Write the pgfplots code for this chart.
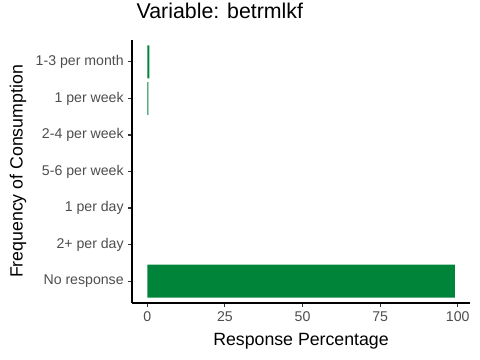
\documentclass[border=0pt]{standalone}
\usepackage{pgfplots}
\pgfplotsset{compat=1.18}
\usepackage{fontspec}
\setmainfont{Liberation Sans}
\definecolor{bargreen}{RGB}{0,132,58}
\definecolor{tickgray}{RGB}{77,77,77}
\begin{document}
\begin{tikzpicture}[x=1pt,y=1pt]
\path[use as bounding box] (0,0) rectangle (360,270);
\begin{axis}[
 at={(99pt,42.75pt)}, anchor=south west,
 scale only axis, width=253.5pt, height=197.25pt,
 xbar, bar width=0.9,
 xmin=-4.95, xmax=103.95, ymin=0.4, ymax=7.6,
 axis x line*=bottom, axis y line*=left,
 axis line style={-, line width=0.8pt, black},
 xtick={0,25,50,75,100}, ytick={1,...,7},
 yticklabels={No response, 2+ per day, 1 per day, 5-6 per week, 2-4 per week, 1 per week, 1-3 per month},
 tick align=outside, major tick length=2.7pt,
 tick style={line width=0.8pt, color=black!80},
 ticklabel style={font=\fontsize{10.6}{12}\selectfont, text=tickgray},
 /pgf/number format/assume math mode=true,
 xlabel={Response Percentage}, ylabel={Frequency of Consumption},
 label style={font=\fontsize{13.3}{15}\selectfont},
 xlabel style={at={(axis description cs:0.5,-0.1445)}, anchor=center},
 ylabel style={at={(axis description cs:-0.337,0.5)}, anchor=center},
 title={Variable: betrmlkf},
 title style={at={(axis description cs:0,1.053)}, anchor=base west, font=\fontsize{16}{19}\selectfont},
 clip=false,
 unbounded coords=discard,
]
% zero-valued categories draw nothing, as in the reference
\addplot[fill=bargreen, draw=none, x filter/.expression={x==0 ? nan : x}]
  coordinates {(99.1,1) (0,2) (0,3) (0,4) (0,5) (0.3,6) (0.65,7)};
\end{axis}
\end{tikzpicture}
\end{document}
